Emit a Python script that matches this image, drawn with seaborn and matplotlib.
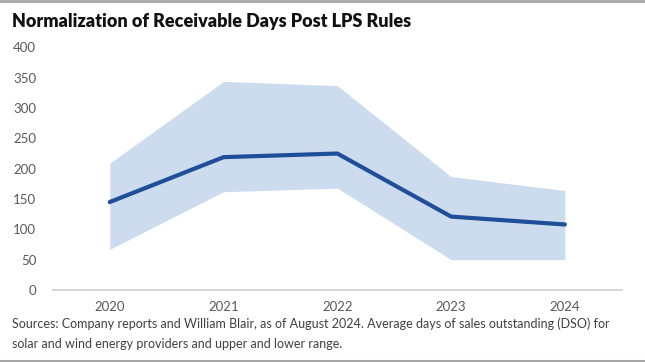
import seaborn as sns
import numpy as np
import pandas as pd
import matplotlib.pyplot as plt
from matplotlib.lines import Line2D

years = ['2020', '2021', '2022', '2023', '2024']
dso_avg = [145, 219, 225, 121, 108]
dso_upper = [209, 344, 337, 187, 164]
dso_lower = [67, 162, 168, 50, 50]

df = pd.DataFrame({'year': years, 'avg': dso_avg,
                   'upper': dso_upper, 'lower': dso_lower})
df['pos'] = np.arange(len(df))

sns.set_theme(style='white')
plt.rcParams['font.family'] = ['Lato', 'DejaVu Sans']

fig = plt.figure(figsize=(6.45, 3.62), dpi=100)
ax = fig.add_axes([0.082, 0.199, 0.882, 0.670])

ax.fill_between(df['pos'], df['lower'], df['upper'], color='#cddbee', lw=0)
sns.lineplot(data=df, x='pos', y='avg', color='#1f4f99', lw=3, ax=ax)

ax.set_xlim(-0.5, 4.5)
ax.set_ylim(0, 400)
ax.set_xticks(df['pos'])
ax.set_xticklabels(df['year'])
ax.set_yticks(range(0, 401, 50))
ax.set_xlabel('')
ax.set_ylabel('')
sns.despine(ax=ax, left=True)
ax.spines['bottom'].set_color('#d0d0d0')
ax.tick_params(axis='both', length=0, labelsize=9.5, labelcolor='#595959')
ax.tick_params(axis='x', pad=8)
ax.tick_params(axis='y', pad=12)

fig.text(0.019, 0.94, 'Normalization of Receivable Days Post LPS Rules',
         fontsize=13, fontweight='heavy', color='#111111', va='center')
fig.text(0.019, 0.105,
         'Sources: Company reports and William Blair, as of August 2024. '
         'Average days of sales outstanding (DSO) for',
         fontsize=9, color='#404040', va='center')
fig.text(0.019, 0.05, 'solar and wind energy providers and upper and lower range.',
         fontsize=9, color='#404040', va='center')

fig.add_artist(Line2D([0, 1], [0.997, 0.997], color='#a6a6a6', lw=2,
                      transform=fig.transFigure))
fig.add_artist(Line2D([0, 1], [0.003, 0.003], color='#a6a6a6', lw=1.5,
                      transform=fig.transFigure))

fig.savefig('out.png', dpi=100)
